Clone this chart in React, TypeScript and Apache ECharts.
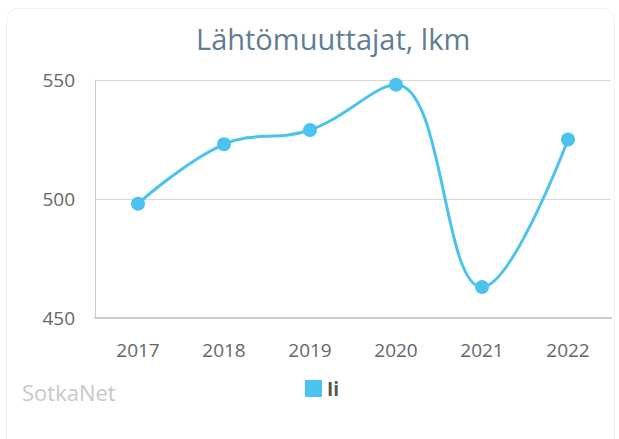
import React, { useEffect, useRef } from "react";
import * as echarts from "echarts";

const categories = ["2017", "2018", "2019", "2020", "2021", "2022"];
const seriesName = "Ii";
const values = [498, 523, 529, 548, 463, 525];
const yTicks = [450, 500, 550];
const titleText = "Lähtömuuttajat, lkm";
const creditText = "SotkaNet";

export default function App() {
  const ref = useRef<HTMLDivElement>(null);
  useEffect(() => {
    if (!ref.current) return;
    const chart = echarts.init(ref.current, undefined, { renderer: "svg" });
    chart.setOption({
      animation: false,
      backgroundColor: "#ffffff",
      textStyle: { fontFamily: "Open Sans" },
      title: {
        text: titleText,
        left: 191,
        top: 19,
        textStyle: { fontFamily: "Open Sans", fontSize: 29, fontWeight: "normal", color: "#5f7d94" },
      },
      graphic: [
        {
          type: "rect",
          shape: { x: 6.5, y: 8.5, width: 608, height: 460, r: 12 },
          style: { fill: "none", stroke: "#f0f0f0", lineWidth: 1 },
          silent: true,
          z: -1,
        },
        {
          type: "text",
          left: 22,
          top: 381,
          style: { text: creditText, fill: "#c8c8c8", fontSize: 22, fontFamily: "Open Sans" },
        },
      ],
      legend: {
        data: [seriesName],
        top: 374,
        left: 300,
        icon: "rect",
        itemWidth: 17,
        itemHeight: 17,
        itemGap: 8,
        textStyle: { fontSize: 19, fontWeight: "bold", color: "#555", fontFamily: "Open Sans" },
      },
      grid: { left: 95, right: 8, top: 80, bottom: 121 },
      xAxis: {
        type: "category",
        data: categories,
        boundaryGap: true,
        axisLine: { show: true, lineStyle: { color: "#cccccc", width: 2 } },
        axisTick: { show: false },
        axisLabel: { color: "#666", fontSize: 19, margin: 22, fontFamily: "Open Sans" },
      },
      yAxis: {
        type: "value",
        min: yTicks[0],
        max: yTicks[yTicks.length - 1],
        interval: 50,
        axisLine: { show: true, lineStyle: { color: "#cccccc", width: 1 } },
        axisTick: { show: false },
        splitLine: { lineStyle: { color: "#d8d8d8", width: 1 } },
        axisLabel: { color: "#666", fontSize: 19, margin: 20, fontFamily: "Open Sans" },
      },
      series: [
        {
          name: seriesName,
          type: "line",
          data: values,
          smooth: 0.4,
          symbol: "circle",
          symbolSize: 14,
          itemStyle: { color: "#4cc3ee" },
          lineStyle: { color: "#4cc3ee", width: 3 },
        },
      ],
    });
    return () => chart.dispose();
  }, []);
  return (
    <div
      ref={ref}
      style={{ position: "absolute", left: 0, top: 0, width: 619, height: 439 }}
    />
  );
}
